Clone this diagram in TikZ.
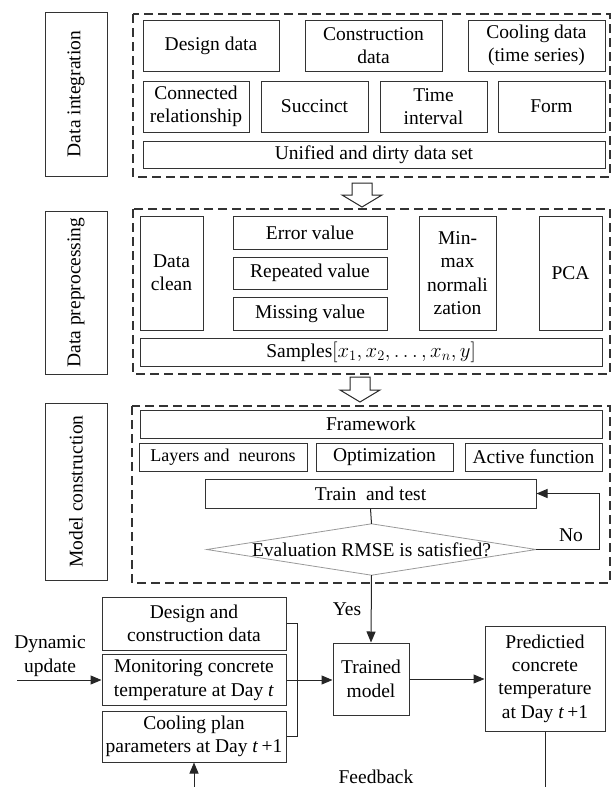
\documentclass[tikz,border=0pt]{standalone}
\usepackage{fontspec}
\setmainfont{Liberation Serif}
\usetikzlibrary{arrows.meta}
\newcommand{\boxfont}{\fontsize{19.5}{23.4}\selectfont}
\tikzset{
  box/.style={draw=black!80, line width=1pt, inner sep=0pt, align=center, font=\boxfont},
  stagebox/.style={box, rotate=90, minimum height=62pt},
  group/.style={draw=black!80, line width=1.2pt, dash pattern=on 9pt off 5pt},
  conn/.style={draw=black!85, line width=1pt},
  lbl/.style={inner sep=0pt, align=center, font=\boxfont},
  >={Triangle[length=11pt,width=9pt]}
}
\begin{document}
\begin{tikzpicture}[x=1pt,y=-1pt]
  \useasboundingbox (0,0) rectangle (611,787);
  \clip (0,0) rectangle (611,787);

  % Stages (left labels)
  \node[stagebox, minimum width=164pt] (integ) at (76,94) {Data integration};
  \node[stagebox, minimum width=163pt] (prep) at (76,292.5) {Data preprocessing};
  \node[stagebox, minimum width=177pt] (model) at (76,491.5) {Model construction};

  % Dashed groups
  \draw[group] (133,14) rectangle (610,177);
  \draw[group] (133,209) rectangle (610,374);
  \draw[group] (132,406) rectangle (610,583);

  % Data integration
  \node[box, minimum width=136pt, minimum height=51pt] (design) at (211,45.5) {Design data};
  \node[box, minimum width=137pt, minimum height=51pt] (constr) at (373.5,45.5) {Construction\\data};
  \node[box, minimum width=137pt, minimum height=51pt] (cooling) at (536.5,45.5) {Cooling data\\(time series)};
  \node[box, minimum width=106pt, minimum height=51pt] (connrel) at (196,106.5) {Connected\\relationship};
  \node[box, minimum width=107pt, minimum height=51pt] (succinct) at (314.5,106.5) {Succinct};
  \node[box, minimum width=107pt, minimum height=51pt] (timeint) at (433.5,106.5) {Time\\interval};
  \node[box, minimum width=107pt, minimum height=51pt] (form) at (551.5,106.5) {Form};
  \node[box, minimum width=462pt, minimum height=27pt] (unified) at (374,154.5) {Unified and dirty data set};

  % Hollow arrow 1
  \draw[conn, fill=white] (352,183) -- (372,183) -- (372,195) -- (382,195) -- (362,207)
    -- (342,195) -- (352,195) -- cycle;

  % Data preprocessing
  \node[box, minimum width=63pt, minimum height=114pt] (clean) at (171.5,273) {Data\\clean};
  \node[box, minimum width=154pt, minimum height=33pt] (err) at (310,232.5) {Error value};
  \node[box, minimum width=154pt, minimum height=32pt] (rep) at (310,273) {Repeated value};
  \node[box, minimum width=154pt, minimum height=33pt] (miss) at (310,313.5) {Missing value};
  \node[box, minimum width=77pt, minimum height=114pt] (minmax) at (457.5,273) {Min-\\max\\normali\\zation};
  \node[box, minimum width=63pt, minimum height=114pt] (pca) at (570.5,273) {PCA};
  \node[box, minimum width=462pt, minimum height=28pt] (samples) at (371,352) {Samples$[x_1,x_2,\ldots,x_n,y]$};

  % Hollow arrow 2
  \draw[conn, fill=white] (350,377) -- (370,377) -- (370,390) -- (380,390) -- (360,402)
    -- (340,390) -- (350,390) -- cycle;

  % Model construction
  \node[box, minimum width=462pt, minimum height=28pt] (frame) at (371,424) {Framework};
  \node[box, minimum width=168pt, minimum height=28pt, font=\fontsize{18}{21}\selectfont] (layers) at (223,457) {Layers and\ \ neurons};
  \node[box, minimum width=137pt, minimum height=28pt] (optim) at (384.5,457) {Optimization};
  \node[box, minimum width=137pt, minimum height=28pt] (active) at (533.5,457) {Active function};
  \node[box, minimum width=331pt, minimum height=29pt] (train) at (370.5,493.5) {Train\ \ and test};
  \node[lbl, minimum width=329pt, minimum height=51pt] (eval) at (371.5,549.5) {Evaluation RMSE is satisfied?};
  \draw[draw=black!40, line width=0.8pt] (eval.west) -- (eval.north) -- (eval.east) -- (eval.south) -- cycle;

  \draw[conn] (train.south) -- (eval.north);
  \draw[conn, ->] (eval.east) -- ++(63,0) |- (train.east);
  \node[lbl] (no) at (571,535) {No};

  % Application
  \node[box, minimum width=184pt, minimum height=53pt] (dcd) at (194,623.5) {Design and\\construction data};
  \node[box, minimum width=184pt, minimum height=51pt] (mon) at (194,680) {Monitoring concrete\\temperature at Day \textit{t}};
  \node[box, minimum width=184pt, minimum height=51pt] (coolp) at (194,736.5) {Cooling plan\\parameters at Day \textit{t}\,+1};
  \node[box, minimum width=76pt, minimum height=72pt] (trained) at (371,679) {Trained\\model};
  \node[box, minimum width=120pt, minimum height=105pt] (pred) at (545,678.5) {Predictied\\concrete\\temperature\\at Day \textit{t}\,+1};

  \draw[conn, ->] (eval.south) -- (trained.north);
  \node[lbl] (yes) at (347,609) {Yes};

  \draw[conn] (dcd.east) -- ++(11,0) |- (coolp.east);
  \draw[conn, ->] (mon.east) -- (trained.west |- mon.east);
  \draw[conn, ->] (trained.east) -- (pred.west |- trained.east);

  \coordinate (dyn) at (17,680);
  \draw[conn, ->] (dyn) -- (mon.west);
  \node[lbl] (dyntext) at (50,656) {Dynamic\\update};

  % Feedback loop (runs below the picture)
  \coordinate (fb) at (545,800);
  \draw[conn, ->] (pred.south) -- (fb) -| (coolp.south);
  \node[lbl] (feedback) at (376,777) {Feedback};
\end{tikzpicture}
\end{document}
